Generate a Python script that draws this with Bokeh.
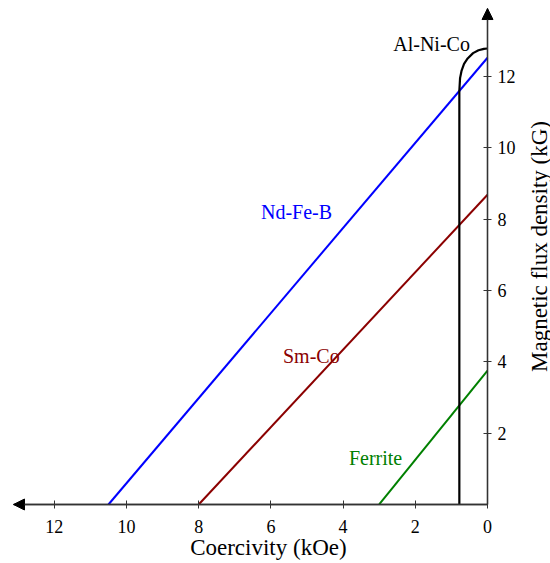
import math
from bokeh.plotting import figure
from bokeh.models import Range1d, FixedTicker, Arrow, NormalHead, Label, LinearAxis
from bokeh.embed import file_html
from bokeh.resources import INLINE

# Data (coercivity in kOe, flux density in kG)
ndfeb_h = [10.5, 0.0]
ndfeb_b = [0.0, 12.52]
smco_h = [8.0, 0.0]
smco_b = [0.0, 8.68]
ferrite_h = [3.0, 0.0]
ferrite_b = [0.0, 3.75]
alnico_h = [0.78, 0.78, 0.76, 0.72, 0.65, 0.55, 0.4, 0.25, 0.1, 0.0]
alnico_b = [0.0, 11.6, 11.95, 12.15, 12.35, 12.5, 12.65, 12.73, 12.77, 12.78]

x_ticks = [0, 2, 4, 6, 8, 10, 12]
y_ticks = [2, 4, 6, 8, 10, 12]

labels = [
    ("Al-Ni-Co", 1.55, 12.91, "black"),
    ("Nd-Fe-B", 5.29, 8.21, "blue"),
    ("Sm-Co", 4.88, 4.15, "#8b0000"),
    ("Ferrite", 3.10, 1.29, "green"),
]

x_title = "Coercivity (kOe)"
y_title = "Magnetic flux density (kG)"

# axis extents (arrow tips)
x_max = 13.13
y_max = 13.9

FONT = "Liberation Serif"
W, H = 550, 563

p = figure(width=W, height=H, output_backend="svg", toolbar_location=None,
           x_range=Range1d(13.49, -1.745), y_range=Range1d(-1.654, 14.125),
           x_axis_location=None, y_axis_location=None,
           min_border_left=0, min_border_top=0, min_border_right=0, min_border_bottom=0)
p.outline_line_color = None
p.grid.visible = False
p.background_fill_color = "white"

xaxis = LinearAxis(fixed_location=0, bounds=(0, x_max), ticker=FixedTicker(ticks=x_ticks))
yaxis = LinearAxis(fixed_location=0, bounds=(0, y_max), ticker=FixedTicker(ticks=y_ticks))
for ax in (xaxis, yaxis):
    ax.axis_line_color = "#333333"
    ax.axis_line_width = 1.3
    ax.major_tick_in = 4
    ax.major_tick_out = 4
    ax.major_tick_line_color = "#333333"
    ax.minor_tick_line_color = None
    ax.major_label_text_font = FONT
    ax.major_label_text_font_size = "18px"
    ax.major_label_text_color = "black"
xaxis.major_label_standoff = 12
yaxis.major_label_standoff = 6
p.add_layout(xaxis, "below")
p.add_layout(yaxis, "right")

# Axis titles
p.add_layout(Label(x=6.07, y=-1.205, text=x_title, text_font=FONT, text_font_size="23px",
                   text_color="black", text_align="center", text_baseline="middle"))
p.add_layout(Label(x=-1.43, y=7.23, text=y_title, angle=math.pi / 2, text_font=FONT,
                   text_font_size="23px", text_color="black", text_align="center",
                   text_baseline="middle"))

# Arrowheads
p.add_layout(Arrow(end=NormalHead(size=11, fill_color="black", line_color="black"),
                   x_start=0, y_start=0, x_end=x_max, y_end=0, line_color="#333333", line_width=1.3))
p.add_layout(Arrow(end=NormalHead(size=11, fill_color="black", line_color="black"),
                   x_start=0, y_start=0, x_end=0, y_end=y_max, line_color="#333333", line_width=1.3))

p.line(ndfeb_h, ndfeb_b, line_color="blue", line_width=2)
p.line(smco_h, smco_b, line_color="#8b0000", line_width=2)
p.line(ferrite_h, ferrite_b, line_color="green", line_width=2)
p.line(alnico_h, alnico_b, line_color="black", line_width=2.2)

for txt, x, y, c in labels:
    p.add_layout(Label(x=x, y=y, text=txt, text_color=c, text_font=FONT,
                       text_font_size="20px", text_align="center", text_baseline="middle"))

open("out.html", "w").write(file_html(p, INLINE))
